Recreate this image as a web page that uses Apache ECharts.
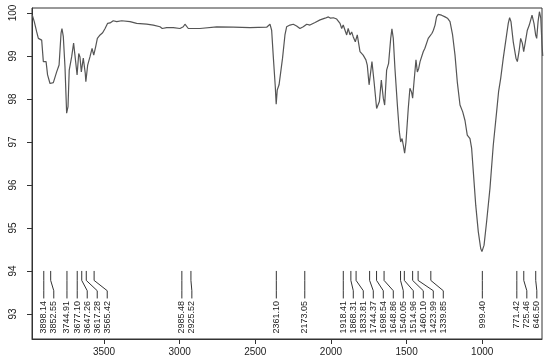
<!DOCTYPE html>
<html><head><meta charset="utf-8">
<script src="https://cdn.jsdelivr.net/npm/echarts@6/dist/echarts.min.js"></script>
<style>html,body{margin:0;padding:0;background:#fff}#c{width:550px;height:363px}</style>
</head><body><div id="c"></div>
<script>
// Spectrum (wavenumber cm-1, transmittance %)
const wavenumber = [3974,3961,3945,3934,3923,3912,3901,3895,3883,3873,3857,3846,3835,3813,3797,3784,3778,3769,3758,3747,3738,3730,3714,3701,3690,3678,3667,3659,3650,3637,3624,3620,3608,3593,3579,3568,3555,3544,3526,3509,3493,3476,3460,3439,3416,3405,3383,3372,3328,3284,3218,3174,3130,3115,3086,3042,2998,2976,2965,2943,2866,2755,2645,2535,2425,2403,2392,2381,2368,2362,2355,2343,2333,2320,2304,2293,2271,2249,2227,2205,2183,2160,2139,2105,2072,2039,2017,2002,1993,1984,1962,1940,1929,1919,1907,1896,1886,1874,1863,1853,1839,1826,1817,1808,1797,1787,1769,1760,1748,1729,1715,1698,1680,1667,1654,1645,1632,1619,1605,1597,1588,1577,1561,1548,1539,1530,1522,1513,1504,1489,1478,1467,1460,1451,1438,1429,1420,1411,1401,1390,1379,1368,1357,1345,1332,1323,1312,1302,1291,1269,1246,1230,1213,1196,1180,1165,1147,1129,1114,1099,1081,1070,1059,1043,1026,1010,1002,988,971,949,927,905,892,878,861,839,828,819,810,795,777,768,757,746,735,726,715,702,689,671,658,647,640,631,622,613,605,600];
const transmittance = [99.95,99.80,99.56,99.41,99.43,99.37,98.87,98.90,98.87,98.56,98.36,98.33,98.38,98.63,98.79,99.53,99.64,99.45,98.75,97.67,97.82,98.67,98.98,99.30,98.95,98.56,99.06,98.98,98.63,98.95,98.60,98.40,98.79,98.98,99.18,99.02,99.22,99.41,99.49,99.54,99.64,99.76,99.77,99.82,99.80,99.84,99.82,99.85,99.80,99.76,99.74,99.72,99.68,99.64,99.66,99.66,99.64,99.68,99.74,99.64,99.64,99.68,99.67,99.66,99.67,99.74,99.60,98.98,98.29,97.88,98.21,98.33,98.37,98.95,99.49,99.68,99.72,99.74,99.70,99.64,99.68,99.74,99.72,99.78,99.84,99.88,99.91,99.88,99.84,99.89,99.86,99.76,99.64,99.72,99.60,99.49,99.64,99.49,99.56,99.45,99.33,99.49,99.45,99.10,99.06,99.02,98.91,98.79,98.33,98.87,98.40,97.78,97.94,98.44,98.02,97.86,98.67,98.83,99.41,99.63,99.41,98.71,97.86,97.24,97.00,97.08,96.93,96.74,97.00,97.78,98.25,98.16,98.02,98.40,98.91,98.63,98.71,98.87,98.91,99.10,99.18,99.22,99.41,99.45,99.53,99.60,99.72,99.91,99.97,99.95,99.91,99.88,99.80,99.49,99.02,98.40,97.86,97.70,97.50,97.16,97.08,96.85,96.31,95.53,94.91,94.52,94.45,94.60,95.15,95.92,96.93,97.70,98.17,98.48,98.95,99.49,99.76,99.89,99.80,99.33,98.95,98.87,99.10,99.41,99.30,99.10,99.33,99.60,99.72,99.95,99.76,99.49,99.41,99.80,100.03,99.88,99.26,99.00];
// Annotated peak positions
const peakPositions = [3898.14,3852.55,3744.91,3677.10,3647.26,3617.28,3565.42,2985.48,2925.52,2361.10,2173.05,1918.41,1868.31,1833.81,1744.37,1698.54,1648.86,1540.05,1514.96,1460.10,1423.99,1339.85,999.40,771.42,725.46,646.50];
const xTicks = [3500,3000,2500,2000,1500,1000];
const yTicks = [93,94,95,96,97,98,99,100];

const FONT = '"Liberation Sans", Arial, Helvetica, sans-serif';
const INK = '#333';
const LABEL_GAP = 10;

const chart = echarts.init(document.getElementById('c'), null, {renderer: 'canvas'});

function renderPeak(params, api) {
  const i = params.dataIndex;
  const px = peakPositions.map(p => api.coord([p, 94])[0]);
  const order = px.map((v, k) => k).sort((a, b) => px[a] - px[b]);
  const pos = new Array(px.length);
  let prev = -Infinity;
  order.forEach(k => { pos[k] = Math.max(px[k], prev + LABEL_GAP); prev = pos[k]; });
  const p0 = api.coord([peakPositions[i], 94]);
  const y1 = api.coord([peakPositions[i], 93.78])[1];
  const y2 = api.coord([peakPositions[i], 93.54])[1];
  const y3 = api.coord([peakPositions[i], 93.36])[1];
  const y4 = api.coord([peakPositions[i], 93.30])[1];
  const xl = pos[i];
  return {
    type: 'group',
    children: [
      {type: 'polyline', shape: {points: [[p0[0], p0[1]], [p0[0], y1], [xl, y2], [xl, y3]]},
       style: {stroke: INK, lineWidth: 1, fill: null}},
      {type: 'text', x: xl, y: y4, rotation: Math.PI / 2,
       style: {text: peakPositions[i].toFixed(2), align: 'right', verticalAlign: 'middle',
               font: '9px ' + FONT, fill: '#222'}}
    ]
  };
}

chart.setOption({
  animation: false,
  backgroundColor: '#fff',
  grid: {left: 32, right: 8, top: 8, bottom: 24, show: true, borderColor: INK, borderWidth: 1,
         backgroundColor: 'transparent', containLabel: false, outerBoundsMode: 'none'},
  xAxis: {
    type: 'value', inverse: true, min: 605, max: 3976,
    axisLine: {show: true, onZero: false, lineStyle: {color: INK}},
    axisTick: {show: true, customValues: xTicks, length: 5, inside: false, lineStyle: {color: INK}},
    axisLabel: {customValues: xTicks, fontSize: 10, color: '#222', margin: 8, fontFamily: FONT,
                formatter: v => String(v)},
    splitLine: {show: false}
  },
  yAxis: {
    type: 'value', min: 92.417, max: 100.117,
    axisLine: {show: true, onZero: false, lineStyle: {color: INK}},
    axisTick: {show: true, customValues: yTicks, length: 5, inside: false, lineStyle: {color: INK}},
    axisLabel: {customValues: yTicks, rotate: 90, fontSize: 10, color: '#222', margin: 14, fontFamily: FONT,
                formatter: v => String(v)},
    splitLine: {show: false}
  },
  series: [
    {type: 'line', data: wavenumber.map((w, k) => [w, transmittance[k]]), showSymbol: false,
     symbol: 'none', clip: true, lineStyle: {color: '#555', width: 1.2}},
    {type: 'custom', coordinateSystem: 'cartesian2d', data: peakPositions.map(p => [p, 94]),
     renderItem: renderPeak, clip: false}
  ]
});
</script>
</body></html>
